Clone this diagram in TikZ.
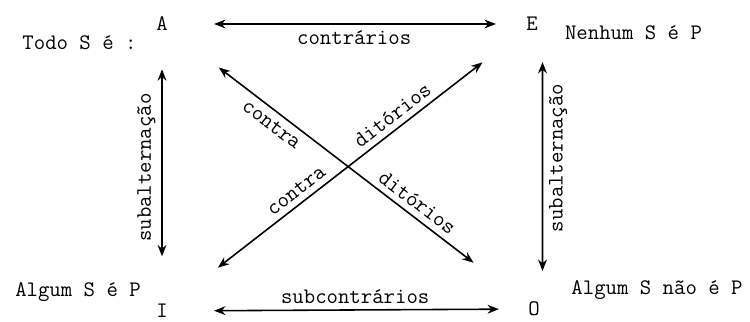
\documentclass[tikz,border=0pt]{standalone}
\usepackage{fontspec}
\usetikzlibrary{arrows.meta}

\begin{document}
\begin{tikzpicture}[
  every node/.style={font=\ttfamily\fontsize{12.6}{14}\selectfont},
  rel/.style={{Stealth[length=6.5pt,width=5pt]}-{Stealth[length=6.5pt,width=5pt]}, line width=0.9pt},
  letter/.style={inner sep=0pt}
]
  \useasboundingbox (0,0) rectangle (15,6.44);
  % corners of the square
  \node[letter] (A) at (3.24,5.96) {A};
  \node[letter] (E) at (10.64,5.96) {E};
  \node[letter] (I) at (3.24,0.22) {I};
  \node[letter] (O) at (10.68,0.26) {O};
  % the four propositions
  \node (todo) at (1.59,5.58) {Todo S é :};
  \node (nenhum) at (12.67,5.78) {Nenhum S é P};
  \node (algum) at (1.56,0.60) {Algum S é P};
  \node (algumnao) at (13.14,0.64) {Algum S não é P};
  % contrarios / subcontrarios
  \draw[rel, shorten <=0.92cm, shorten >=0.6cm] (A) -- node[pos=0.52, below] {contrários} (E);
  \draw[rel, shorten <=0.92cm, shorten >=0.58cm] (I) -- node[pos=0.52, above] {subcontrários} (O);
  % subalternacao
  \draw[rel, shorten <=0.95cm, shorten >=0.76cm] (I) -- node[midway, above, sloped] {subalternação} (A);
  \draw[rel, shorten <=0.76cm, shorten >=0.76cm] ([xshift=0.17cm]O.center) -- node[pos=0.53, below, sloped] {subalternação} ([xshift=0.21cm]E.center);
  % contraditorios
  \draw[rel, shorten <=1.28cm, shorten >=1.37cm] (A) -- node[pos=0.31, below, sloped] {contra} node[pos=0.67, above, sloped] {ditórios} (O);
  \draw[rel, shorten <=1.26cm, shorten >=1.1cm] (I) -- node[pos=0.38, above, sloped] {contra} node[pos=0.65, above, sloped] {ditórios} (E);
\end{tikzpicture}
\end{document}
